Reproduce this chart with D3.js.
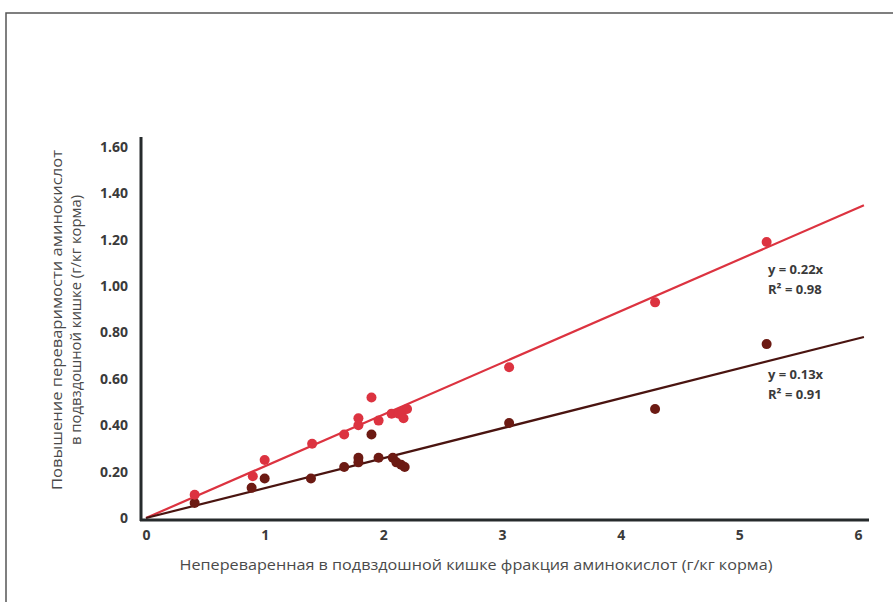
<!DOCTYPE html>
<html>
<head>
<meta charset="utf-8">
<script src="https://cdn.jsdelivr.net/npm/d3@7"></script>
<style>
    body { margin: 0; background: #fff; }
    svg { display: block; }
</style>
</head>
<body>
<svg id="chart" width="893" height="602"></svg>
<script>
// data
var redX = [0.41, 0.90, 1.00, 1.40, 1.67, 1.79, 1.79, 1.90, 1.96, 2.07, 2.13, 2.16, 2.20, 2.17, 3.06, 4.29, 5.23];
var redY = [0.10, 0.18, 0.25, 0.32, 0.36, 0.43, 0.40, 0.52, 0.42, 0.45, 0.45, 0.46, 0.47, 0.43, 0.65, 0.93, 1.19];
var darkX = [0.41, 0.89, 1.00, 1.39, 1.67, 1.79, 1.79, 1.90, 1.96, 2.08, 2.11, 2.15, 2.18, 3.06, 4.29, 5.23];
var darkY = [0.065, 0.13, 0.17, 0.17, 0.22, 0.26, 0.24, 0.36, 0.26, 0.26, 0.24, 0.23, 0.22, 0.41, 0.47, 0.75];
var slopes = [0.223, 0.129];
var equations = [["y = 0.22x", "R² = 0.98"], ["y = 0.13x", "R² = 0.91"]];
var xTicks = [0, 1, 2, 3, 4, 5, 6];
var yTicks = [0, 0.2, 0.4, 0.6, 0.8, 1.0, 1.2, 1.4, 1.6];
var xTitle = "Непереваренная в подвздошной кишке фракция аминокислот (г/кг корма)";
var yTitle = ["Повышение переваримости аминокислот", "в подвздошной кишке (г/кг корма)"];

var redColor = "#dc3340";
var darkColor = "#6c1a13";
var darkLine = "#4a1410";

var svg = d3.select("#chart");
var x = d3.scaleLinear().domain([0, 6]).range([146, 858]);
var y = d3.scaleLinear().domain([0, 1.6]).range([518, 147]);

// outer frame
svg.append("rect")
    .attr("x", 6).attr("y", 13)
    .attr("width", 900).attr("height", 600)
    .attr("fill", "none")
    .attr("stroke", "#555")
    .attr("stroke-width", 1.5);

// tick labels
svg.append("g")
    .attr("transform", "translate(0,520)")
    .call(d3.axisBottom(x).tickValues(xTicks).tickSize(0).tickPadding(10).tickFormat(d3.format("d")));
svg.append("g")
    .attr("transform", "translate(141,0)")
    .call(d3.axisLeft(y).tickValues(yTicks).tickSize(0).tickPadding(13)
        .tickFormat(d => d == 0 ? "0" : d3.format(".2f")(d)));
svg.selectAll(".domain").remove();
svg.selectAll(".tick text")
    .attr("font-family", "Open Sans")
    .attr("font-weight", "bold")
    .attr("font-size", 14)
    .attr("fill", "#3a3a3a");

// regression lines
var lineColors = [redColor, darkLine];
slopes.forEach((s, i) => {
    svg.append("line")
        .attr("x1", x(0)).attr("y1", y(0))
        .attr("x2", x(6.05)).attr("y2", y(s * 6.05))
        .attr("stroke", lineColors[i])
        .attr("stroke-width", 2.2);
});

// axis lines
svg.append("line")
    .attr("x1", 141).attr("x2", 141)
    .attr("y1", 137).attr("y2", 521)
    .attr("stroke", "#262b2c").attr("stroke-width", 3);
svg.append("line")
    .attr("x1", 140).attr("x2", 869)
    .attr("y1", 520).attr("y2", 520)
    .attr("stroke", "#262b2c").attr("stroke-width", 3);

// points
svg.append("g").selectAll("circle")
    .data(d3.zip(darkX, darkY))
    .join("circle")
    .attr("cx", d => x(d[0]))
    .attr("cy", d => y(d[1]))
    .attr("r", 5)
    .attr("fill", darkColor);
svg.append("g").selectAll("circle")
    .data(d3.zip(redX, redY))
    .join("circle")
    .attr("cx", d => x(d[0]))
    .attr("cy", d => y(d[1]))
    .attr("r", 5)
    .attr("fill", redColor);

// equations
var eqY = [274, 379];
equations.forEach((eq, i) => {
    svg.append("text")
        .attr("x", 768).attr("y", eqY[i])
        .attr("font-family", "Open Sans")
        .attr("font-weight", "bold")
        .attr("font-size", 13)
        .attr("fill", "#3a3a3a")
        .selectAll("tspan")
        .data(eq)
        .join("tspan")
        .attr("x", 768)
        .attr("dy", (d, j) => j == 0 ? 0 : 20)
        .text(d => d);
});

// titles
svg.append("text")
    .attr("x", 476).attr("y", 570)
    .attr("text-anchor", "middle")
    .attr("font-family", "Open Sans")
    .attr("font-size", 15)
    .attr("textLength", 593)
    .attr("lengthAdjust", "spacingAndGlyphs")
    .attr("fill", "#4a4a4a")
    .text(xTitle);
var yt = svg.append("text")
    .attr("transform", "translate(62,320) rotate(-90)")
    .attr("text-anchor", "middle")
    .attr("font-family", "Open Sans")
    .attr("font-size", 15)
    .attr("fill", "#4a4a4a");
yt.selectAll("tspan")
    .data(yTitle)
    .join("tspan")
    .attr("x", 0)
    .attr("dy", (d, j) => j == 0 ? 0 : 19)
    .attr("textLength", (d, j) => j == 0 ? 340 : 250)
    .attr("lengthAdjust", "spacingAndGlyphs")
    .text(d => d);
</script>
</body>
</html>
